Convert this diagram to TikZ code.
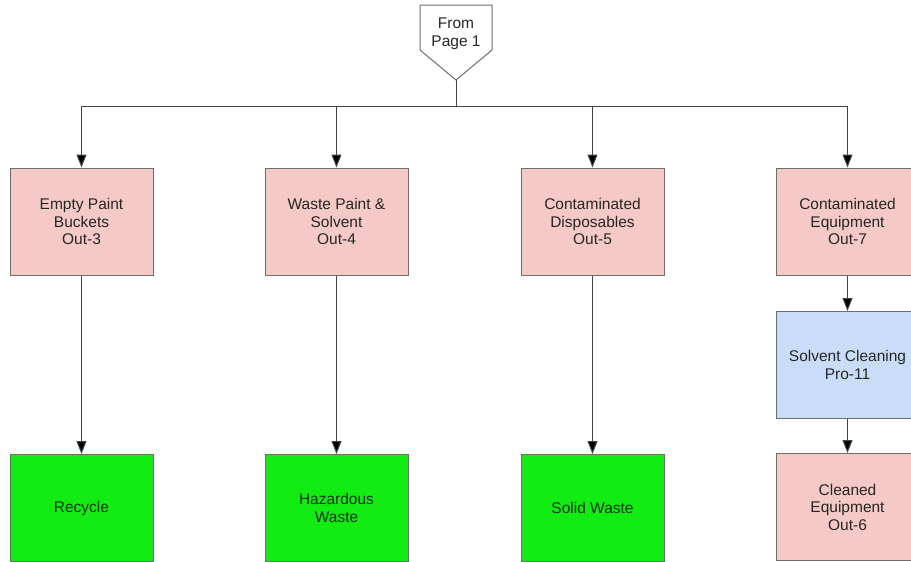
\documentclass[tikz,border=0pt]{standalone}
\usepackage{fontspec}
\setmainfont{Liberation Sans}
\usetikzlibrary{arrows.meta}
\definecolor{outpink}{HTML}{F5C9C6}
\definecolor{problue}{HTML}{C9DDF8}
\definecolor{endgreen}{HTML}{12EC12}
\definecolor{edgegray}{HTML}{6E6E6E}
\definecolor{linegray}{HTML}{444444}
\tikzset{
    box/.style={draw=edgegray,line width=1pt,minimum width=143pt,
        minimum height=107pt,align=center,inner sep=2pt},
    outbox/.style={box,fill=outpink},
    probox/.style={box,fill=problue},
    endbox/.style={box,fill=endgreen,text=black!80!green},
    flow/.style={draw=linegray,line width=1pt,
        -{Triangle[length=13pt,width=10pt,fill=black]}},
}
\begin{document}
\begin{tikzpicture}[x=1pt,y=-1pt,font=\fontsize{15.5}{17.5}\selectfont,
    text=black!85]
    \useasboundingbox (0,0) rectangle (911,562);
    \clip (0,0) rectangle (911,562);
    \fill[white] (0,0) rectangle (911,562);

    % off-page connector
    \draw[edgegray,line width=1pt,fill=white]
        (420,5) -- (492,5) -- (492,50) -- (456,80) -- (420,50) -- cycle;
    \node (from) at (456,34) [align=center] {From\\Page 1};
    \coordinate (tip) at (456,80);
    \coordinate (bus) at (456,106);

    \node[outbox] (out3) at (81.5,221.5)  {Empty Paint\\Buckets\\Out-3};
    \node[outbox] (out4) at (336.5,221.5) {Waste Paint \&\\Solvent\\Out-4};
    \node[outbox] (out5) at (592.5,221.5) {Contaminated\\Disposables\\Out-5};
    \node[outbox] (out7) at (847.5,221.5) {Contaminated\\Equipment\\Out-7};

    \node[probox] (pro11) at (847.5,365) {Solvent Cleaning\\Pro-11};

    \node[endbox] (recycle) at (81.5,508)  {Recycle};
    \node[endbox] (hazard)  at (336.5,508) {Hazardous\\Waste};
    \node[endbox] (solid)   at (592.5,508) {Solid Waste};
    \node[outbox] (out6)    at (847.5,507) {Cleaned\\Equipment\\Out-6};

    \draw[linegray,line width=1pt] (tip) -- (bus);
    \foreach \n in {out3,out4,out5,out7}{
        \draw[flow] (bus) -| (\n.north);
    }
    \foreach \a/\b in {out3/recycle,out4/hazard,out5/solid,out7/pro11,pro11/out6}{
        \draw[flow] (\a) -- (\b);
    }
\end{tikzpicture}
\end{document}
